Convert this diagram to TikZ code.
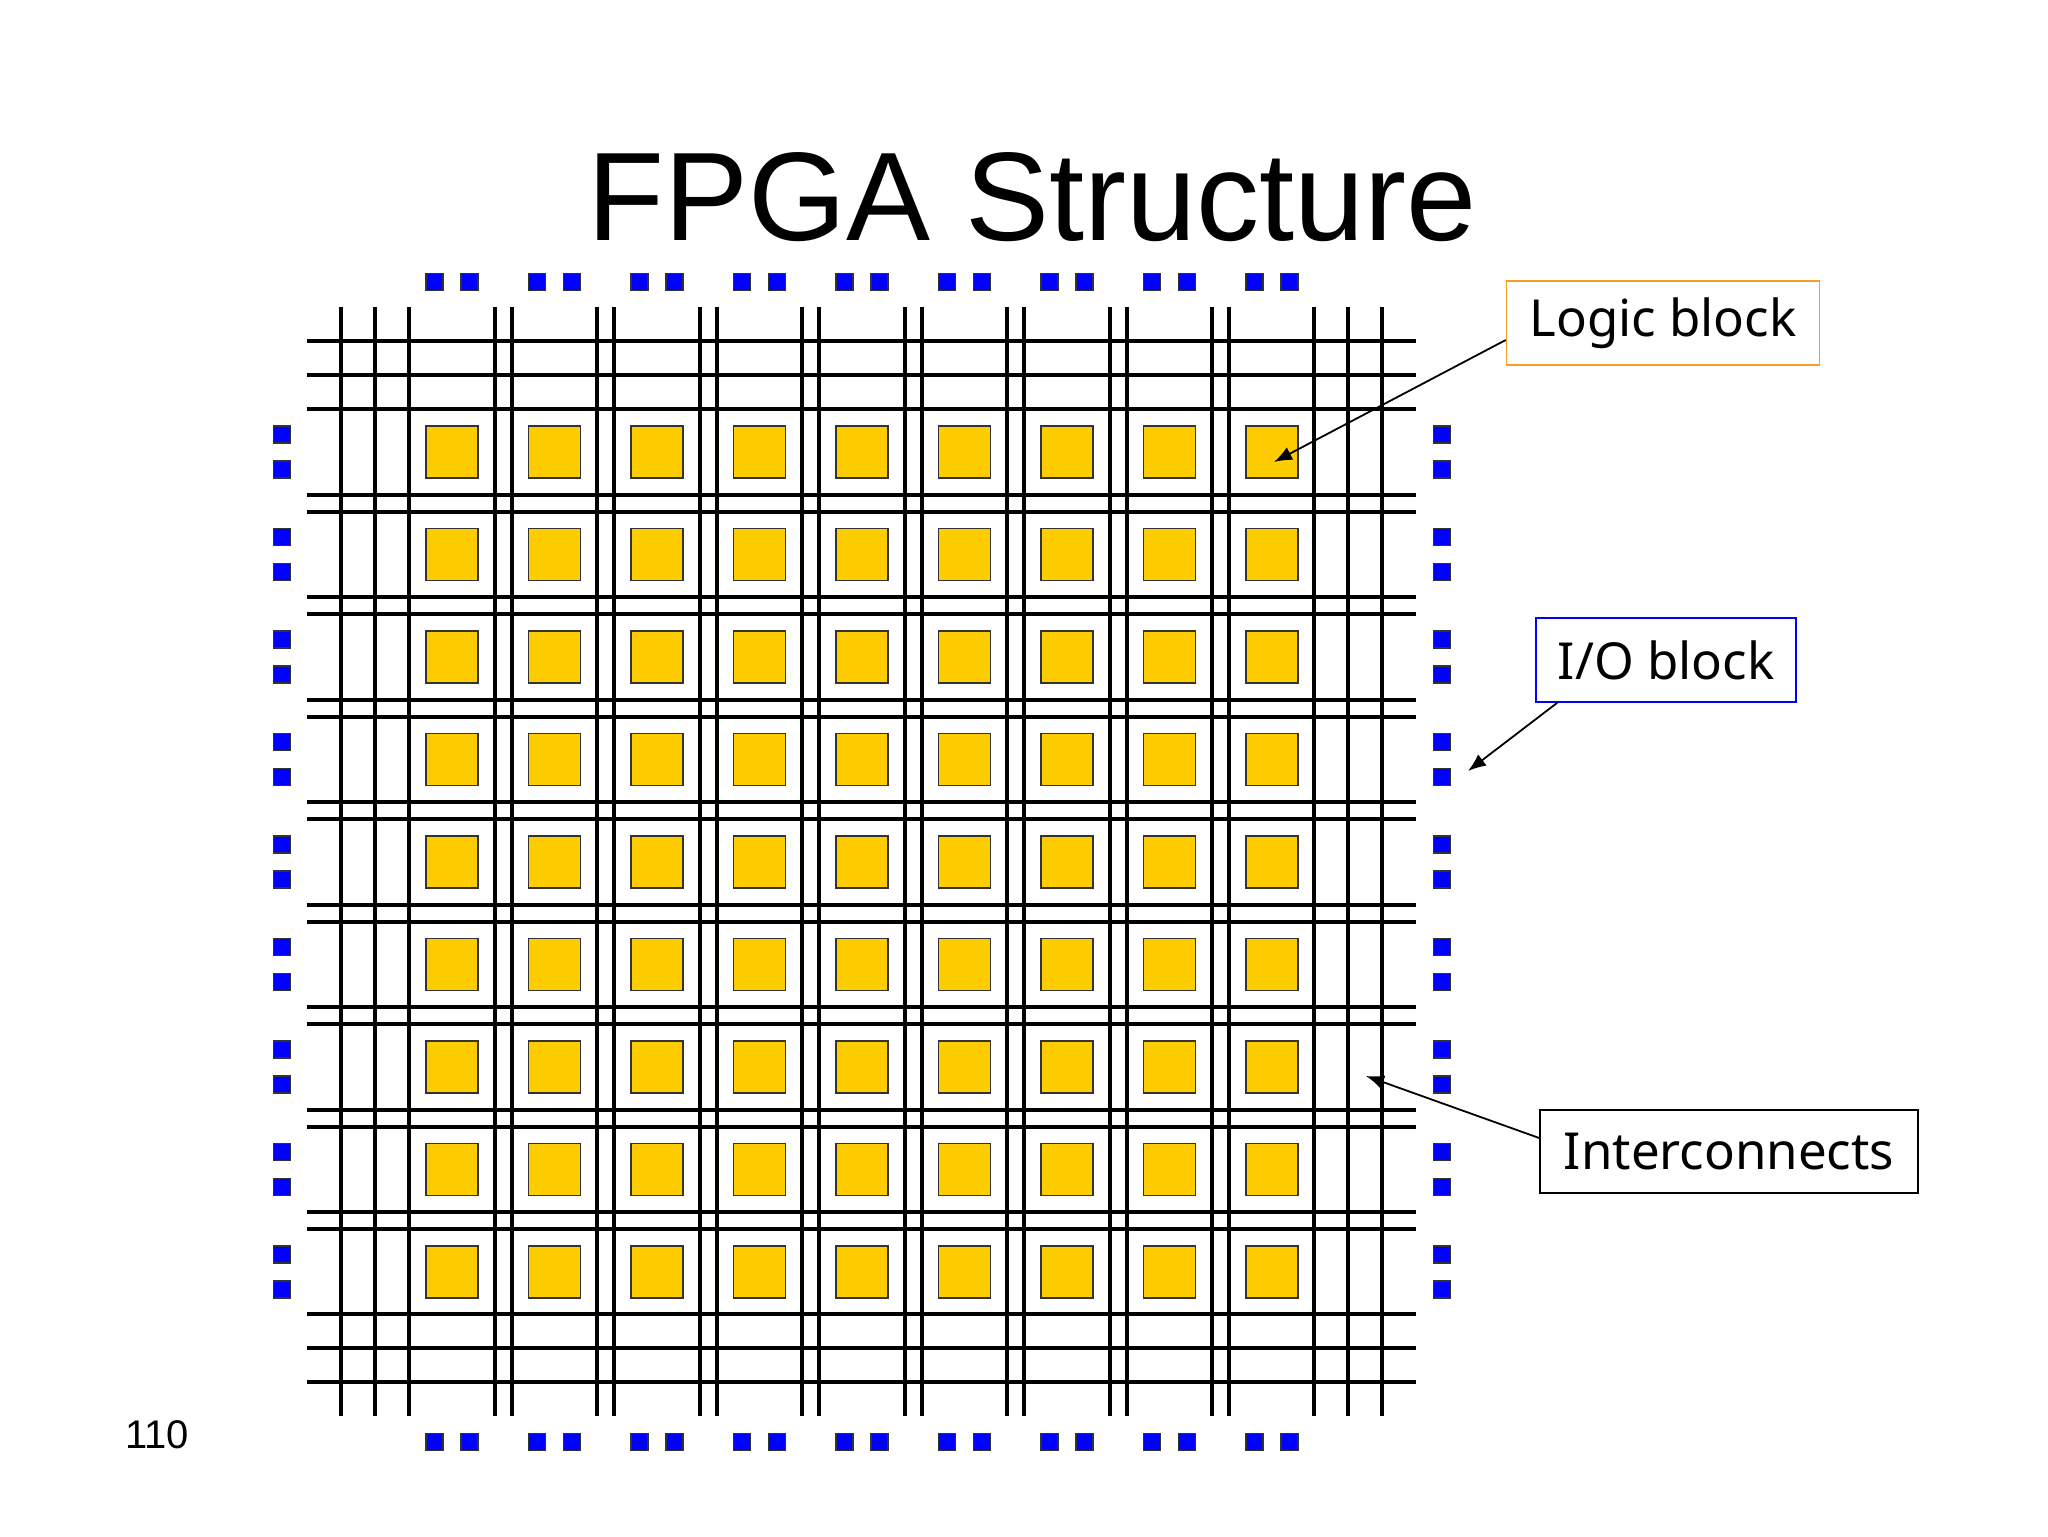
\documentclass[tikz,border=0pt]{standalone}
\usepackage{fontspec}
\setmainfont{Noto Sans}
\newfontfamily\arialf{Liberation Sans}
\usetikzlibrary{arrows.meta}
\definecolor{lgold}{HTML}{FFCC00}
\definecolor{iob}{HTML}{0000FF}
\definecolor{lorange}{HTML}{F5A023}
\begin{document}
\begin{tikzpicture}[x=0.5pt,y=-0.5pt,
  wire/.style={line width=2pt,black},
  logic/.style={draw=black!80,fill=lgold,line width=0.8pt,minimum size=26pt,inner sep=0pt},
  io/.style={draw=black!80,fill=iob,line width=0.6pt,minimum size=8.5pt,inner sep=0pt},
  lbl/.style={font=\fontsize{25.5}{29}\selectfont,line width=0.8pt,inner xsep=7pt,inner ysep=6pt},
  arr/.style={line width=0.9pt,-{Latex[length=9pt,width=7pt]}}]
\useasboundingbox (0,0) rectangle (2048,1536);
% title and page number
\node[font=\arialf\fontsize{63}{67}\selectfont] (title) at (1032,197) {FPGA Structure};
\node[font=\arialf\fontsize{20}{24}\selectfont] (pg) at (157,1435) {110};
% interconnect lines
\foreach \p in {341,375,409,1314,1348,1382}{
  \draw[wire] (\p,307) -- (\p,1416);
  \draw[wire] (307,\p) -- (1416,\p);
}
\foreach \k in {1,...,8}{
  \pgfmathsetmacro\m{452+102.5*\k-51.25}
  \draw[wire] (\m-8.5,307) -- (\m-8.5,1416);
  \draw[wire] (\m+8.5,307) -- (\m+8.5,1416);
  \draw[wire] (307,\m-8.5) -- (1416,\m-8.5);
  \draw[wire] (307,\m+8.5) -- (1416,\m+8.5);
}
% logic blocks
\foreach \i in {1,...,9}{
  \foreach \j in {1,...,9}{
    \pgfmathsetmacro\cx{452+102.5*(\i-1)}
    \pgfmathsetmacro\cy{452+102.5*(\j-1)}
    \node[logic] (b-\i-\j) at (\cx,\cy) {};
  }
}
% I/O blocks
\foreach \k in {1,...,9}{
  \pgfmathsetmacro\c{452+102.5*(\k-1)}
  \node[io] (it-\k-a) at (\c-17.5,282) {};
  \node[io] (it-\k-b) at (\c+17.5,282) {};
  \node[io] (ib-\k-a) at (\c-17.5,1442) {};
  \node[io] (ib-\k-b) at (\c+17.5,1442) {};
  \node[io] (il-\k-a) at (282,\c-17.5) {};
  \node[io] (il-\k-b) at (282,\c+17.5) {};
  \node[io] (ir-\k-a) at (1442,\c-17.5) {};
  \node[io] (ir-\k-b) at (1442,\c+17.5) {};
}
% labels
\node[lbl,draw=lorange,minimum width=156.5pt,minimum height=42pt] (llogic) at (1663,323) {Logic block};
\node[lbl,draw=iob,minimum width=130pt,minimum height=42pt] (lio) at (1666,660) {I/O block};
\node[lbl,draw=black,minimum width=189pt,minimum height=41.5pt] (lint) at (1729,1151.5) {Interconnects};
\coordinate (tipio) at (1468,771);
\coordinate (tipint) at (1366,1076);
\coordinate (tiplog) at (1274,462);
\draw[arr] (llogic.west|-0,340) -- (tiplog);
\draw[arr] (lio.south west)++(22,0) -- (tipio);
\draw[arr] (lint.west|-0,1138) -- (tipint);
\end{tikzpicture}
\end{document}
